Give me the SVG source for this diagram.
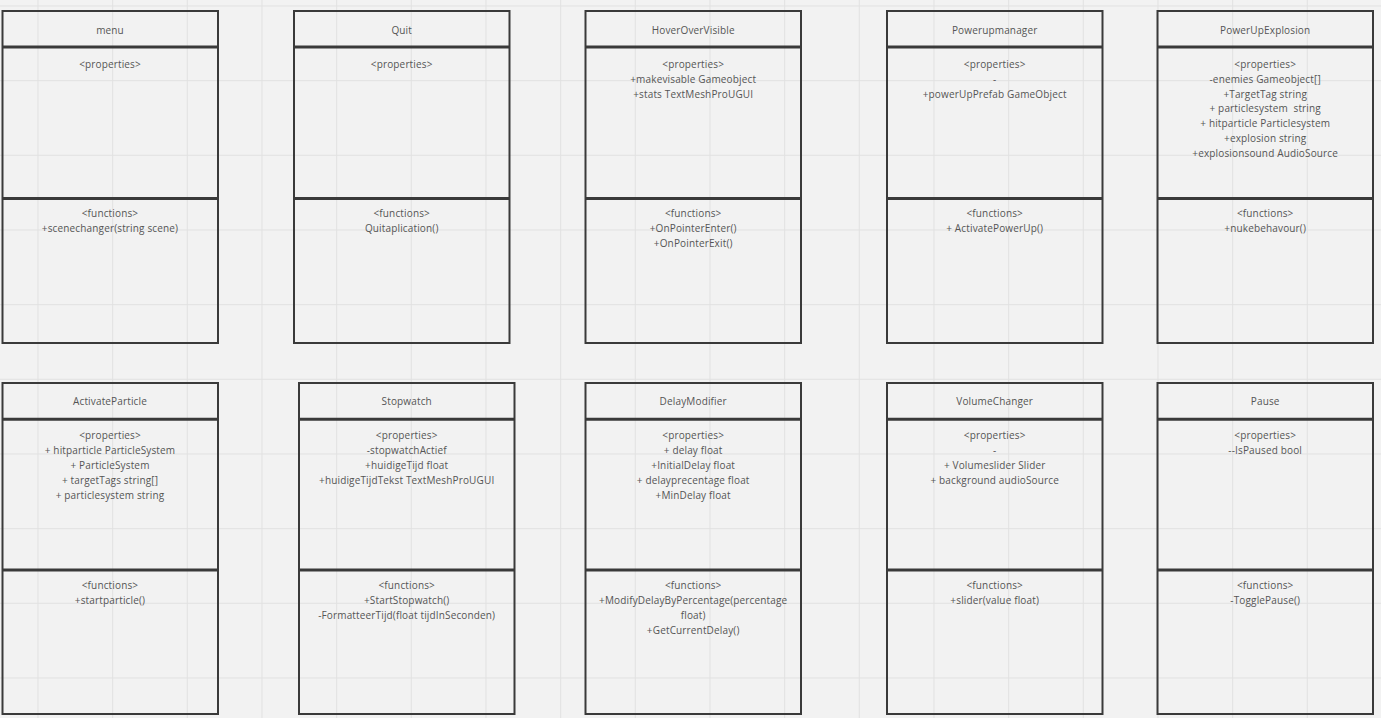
<svg xmlns="http://www.w3.org/2000/svg" width="1381" height="718" viewBox="0 0 1381 718">
<style>
.grid line{stroke:#e1e1e1;stroke-width:1}
.box{fill:none;stroke:#3a3a3a;stroke-width:2}
.sep{stroke:#3a3a3a;stroke-width:3}
.sep2{stroke:#3a3a3a;stroke-width:3}
text{font-family:"Open Sans","Liberation Sans",sans-serif;font-size:10px;fill:#555555;text-anchor:middle;letter-spacing:0.15px}
</style>
<rect width="1381" height="718" fill="#f2f2f2"/>
<g class="grid">
<line x1="38" y1="0" x2="38" y2="718"/><line x1="112.7" y1="0" x2="112.7" y2="718"/><line x1="187.3" y1="0" x2="187.3" y2="718"/><line x1="262" y1="0" x2="262" y2="718"/><line x1="336.7" y1="0" x2="336.7" y2="718"/><line x1="411.3" y1="0" x2="411.3" y2="718"/><line x1="486" y1="0" x2="486" y2="718"/><line x1="560.7" y1="0" x2="560.7" y2="718"/><line x1="635.3" y1="0" x2="635.3" y2="718"/><line x1="710" y1="0" x2="710" y2="718"/><line x1="784.7" y1="0" x2="784.7" y2="718"/><line x1="859.3" y1="0" x2="859.3" y2="718"/><line x1="934" y1="0" x2="934" y2="718"/><line x1="1008.7" y1="0" x2="1008.7" y2="718"/><line x1="1083.3" y1="0" x2="1083.3" y2="718"/><line x1="1158" y1="0" x2="1158" y2="718"/><line x1="1232.7" y1="0" x2="1232.7" y2="718"/><line x1="1307.3" y1="0" x2="1307.3" y2="718"/>
<line x1="0" y1="6" x2="1381" y2="6"/><line x1="0" y1="80.7" x2="1381" y2="80.7"/><line x1="0" y1="155.3" x2="1381" y2="155.3"/><line x1="0" y1="230" x2="1381" y2="230"/><line x1="0" y1="304.7" x2="1381" y2="304.7"/><line x1="0" y1="379.3" x2="1381" y2="379.3"/><line x1="0" y1="454" x2="1381" y2="454"/><line x1="0" y1="528.7" x2="1381" y2="528.7"/><line x1="0" y1="603.3" x2="1381" y2="603.3"/><line x1="0" y1="678" x2="1381" y2="678"/>
</g>
<g id="connectors"></g>

<g id="menu">
<rect class="box" x="2.5" y="11" width="215.5" height="332"/>
<line class="sep" x1="2.5" y1="47" x2="218" y2="47"/><line class="sep2" x1="2.5" y1="198.5" x2="218" y2="198.5"/>
<text x="110" y="33.5">menu</text>
<text x="110" y="67.5">&lt;properties&gt;</text>
<text x="110" y="216.5">&lt;functions&gt;</text>
<text x="110" y="232">+scenechanger(string scene)</text>
</g>

<g id="quit">
<rect class="box" x="294" y="11" width="215.5" height="332"/>
<line class="sep" x1="294" y1="47" x2="509.5" y2="47"/><line class="sep2" x1="294" y1="198.5" x2="509.5" y2="198.5"/>
<text x="401.7" y="33.5">Quit</text>
<text x="401.7" y="67.5">&lt;properties&gt;</text>
<text x="401.7" y="216.5">&lt;functions&gt;</text>
<text x="401.7" y="232">Quitaplication()</text>
</g>

<g id="hoverovervisible">
<rect class="box" x="585.5" y="11" width="215.5" height="332"/>
<line class="sep" x1="585.5" y1="47" x2="801" y2="47"/><line class="sep2" x1="585.5" y1="198.5" x2="801" y2="198.5"/>
<text x="693.2" y="33.5">HoverOverVisible</text>
<text x="693.2" y="67.5">&lt;properties&gt;</text>
<text x="693.2" y="82.5">+makevisable Gameobject</text>
<text x="693.2" y="97.5">+stats TextMeshProUGUI</text>
<text x="693.2" y="216.5">&lt;functions&gt;</text>
<text x="693.2" y="232">+OnPointerEnter()</text>
<text x="693.2" y="247">+OnPointerExit()</text>
</g>

<g id="powerupmanager">
<rect class="box" x="887" y="11" width="215.5" height="332"/>
<line class="sep" x1="887" y1="47" x2="1102.5" y2="47"/><line class="sep2" x1="887" y1="198.5" x2="1102.5" y2="198.5"/>
<text x="994.7" y="33.5">Powerupmanager</text>
<text x="994.7" y="67.5">&lt;properties&gt;</text>
<text x="994.7" y="82.5">-</text>
<text x="994.7" y="97.5">+powerUpPrefab GameObject</text>
<text x="994.7" y="216.5">&lt;functions&gt;</text>
<text x="994.7" y="232">+ ActivatePowerUp()</text>
</g>

<g id="powerupexplosion">
<rect class="box" x="1157.5" y="11" width="215.5" height="332"/>
<line class="sep" x1="1157.5" y1="47" x2="1373" y2="47"/><line class="sep2" x1="1157.5" y1="198.5" x2="1373" y2="198.5"/>
<text x="1265.2" y="33.5">PowerUpExplosion</text>
<text x="1265.2" y="67.5">&lt;properties&gt;</text>
<text x="1265.2" y="82.5">-enemies Gameobject[]</text>
<text x="1265.2" y="97.5">+TargetTag string</text>
<text x="1265.2" y="112" xml:space="preserve">+ particlesystem  string</text>
<text x="1265.2" y="126.5">+ hitparticle Particlesystem</text>
<text x="1265.2" y="141.5">+explosion string</text>
<text x="1265.2" y="157">+explosionsound AudioSource</text>
<text x="1265.2" y="216.5">&lt;functions&gt;</text>
<text x="1265.2" y="232">+nukebehavour()</text>
</g>

<g id="activateparticle">
<rect class="box" x="2.5" y="383" width="215.5" height="331"/>
<line class="sep" x1="2.5" y1="419.3" x2="218" y2="419.3"/><line class="sep2" x1="2.5" y1="570" x2="218" y2="570"/>
<text x="110" y="405">ActivateParticle</text>
<text x="110" y="439">&lt;properties&gt;</text>
<text x="110" y="454">+ hitparticle ParticleSystem</text>
<text x="110" y="469">+ ParticleSystem</text>
<text x="110" y="483.5">+ targetTags string[]</text>
<text x="110" y="498.5">+ particlesystem string</text>
<text x="110" y="588.5">&lt;functions&gt;</text>
<text x="110" y="604">+startparticle()</text>
</g>

<g id="stopwatch">
<rect class="box" x="299" y="383" width="215.5" height="331"/>
<line class="sep" x1="299" y1="419.3" x2="514.5" y2="419.3"/><line class="sep2" x1="299" y1="570" x2="514.5" y2="570"/>
<text x="406.7" y="405">Stopwatch</text>
<text x="406.7" y="439">&lt;properties&gt;</text>
<text x="406.7" y="454">-stopwatchActief</text>
<text x="406.7" y="469">+huidigeTijd float</text>
<text x="406.7" y="483.5">+huidigeTijdTekst TextMeshProUGUI</text>
<text x="406.7" y="588.5">&lt;functions&gt;</text>
<text x="406.7" y="604">+StartStopwatch()</text>
<text x="406.7" y="619">-FormatteerTijd(float tijdInSeconden)</text>
</g>

<g id="delaymodifier">
<rect class="box" x="585.5" y="383" width="215.5" height="331"/>
<line class="sep" x1="585.5" y1="419.3" x2="801" y2="419.3"/><line class="sep2" x1="585.5" y1="570" x2="801" y2="570"/>
<text x="693.2" y="405">DelayModifier</text>
<text x="693.2" y="439">&lt;properties&gt;</text>
<text x="693.2" y="454">+ delay float</text>
<text x="693.2" y="469">+InitialDelay float</text>
<text x="693.2" y="483.5">+ delayprecentage float</text>
<text x="693.2" y="498.5">+MinDelay float</text>
<text x="693.2" y="588.5">&lt;functions&gt;</text>
<text x="693.2" y="604">+ModifyDelayByPercentage(percentage</text>
<text x="693.2" y="619">float)</text>
<text x="693.2" y="634">+GetCurrentDelay()</text>
</g>

<g id="volumechanger">
<rect class="box" x="887" y="383" width="215.5" height="331"/>
<line class="sep" x1="887" y1="419.3" x2="1102.5" y2="419.3"/><line class="sep2" x1="887" y1="570" x2="1102.5" y2="570"/>
<text x="994.7" y="405">VolumeChanger</text>
<text x="994.7" y="439">&lt;properties&gt;</text>
<text x="994.7" y="454">-</text>
<text x="994.7" y="469">+ Volumeslider Slider</text>
<text x="994.7" y="483.5">+ background audioSource</text>
<text x="994.7" y="588.5">&lt;functions&gt;</text>
<text x="994.7" y="604">+slider(value float)</text>
</g>

<g id="pause">
<rect class="box" x="1157.5" y="383" width="215.5" height="331"/>
<line class="sep" x1="1157.5" y1="419.3" x2="1373" y2="419.3"/><line class="sep2" x1="1157.5" y1="570" x2="1373" y2="570"/>
<text x="1265.2" y="405">Pause</text>
<text x="1265.2" y="439">&lt;properties&gt;</text>
<text x="1265.2" y="454">--IsPaused bool</text>
<text x="1265.2" y="588.5">&lt;functions&gt;</text>
<text x="1265.2" y="604">-TogglePause()</text>
</g>
</svg>
